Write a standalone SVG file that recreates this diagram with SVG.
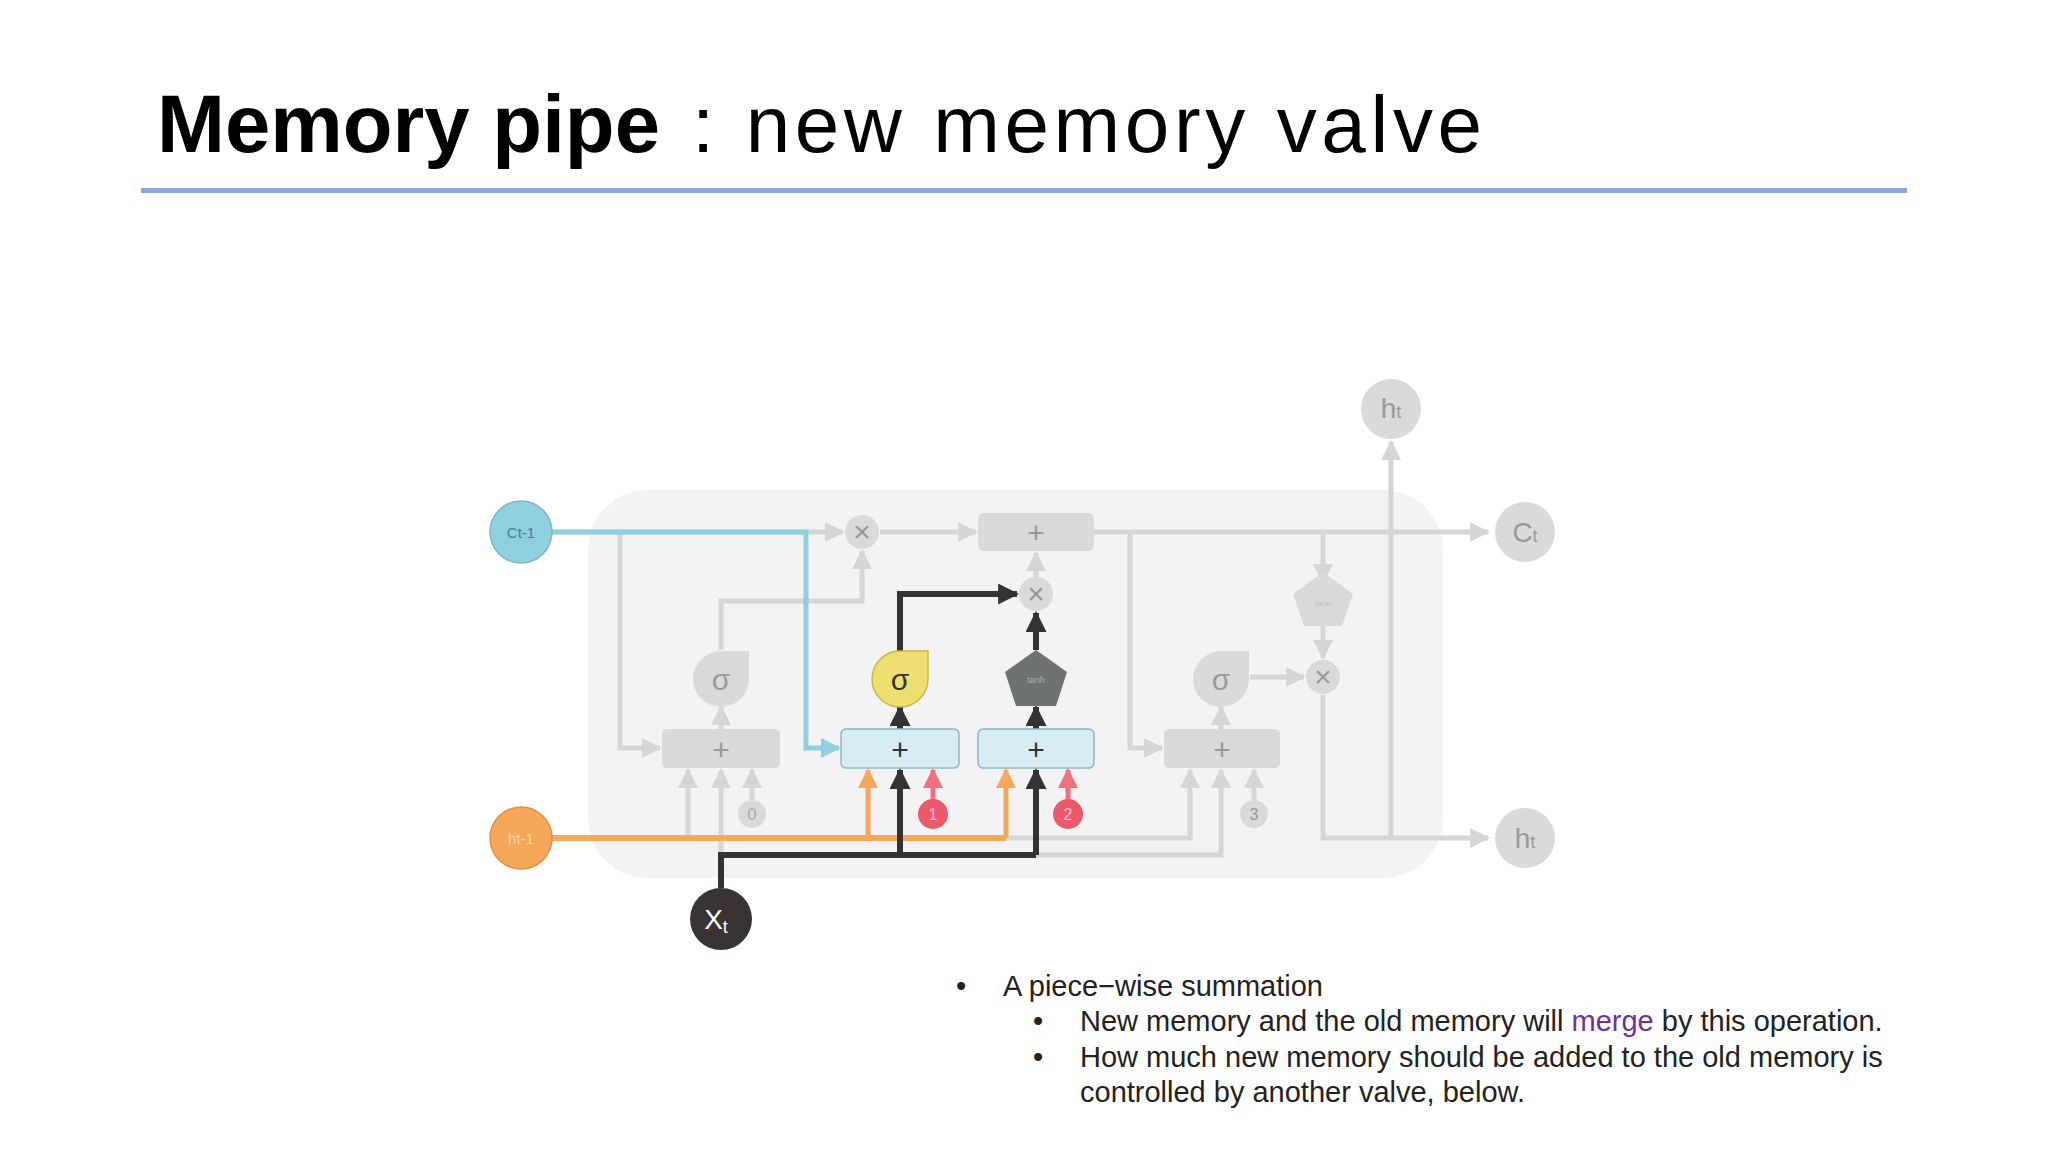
<svg xmlns="http://www.w3.org/2000/svg" width="2048" height="1152" viewBox="0 0 2048 1152">
<defs>
<marker id="ag" viewBox="0 0 10 10" refX="9" refY="5" markerWidth="4" markerHeight="4" orient="auto" markerUnits="strokeWidth"><path d="M0,0L10,5L0,10z" fill="#d6d6d6"/></marker>
<marker id="ad" viewBox="0 0 10 10" refX="9" refY="5" markerWidth="3.5" markerHeight="3.5" orient="auto" markerUnits="strokeWidth"><path d="M0,0L10,5L0,10z" fill="#333"/></marker>
<marker id="ab" viewBox="0 0 10 10" refX="9" refY="5" markerWidth="4" markerHeight="4" orient="auto" markerUnits="strokeWidth"><path d="M0,0L10,5L0,10z" fill="#8fd0de"/></marker>
<marker id="ao" viewBox="0 0 10 10" refX="9" refY="5" markerWidth="4" markerHeight="4" orient="auto" markerUnits="strokeWidth"><path d="M0,0L10,5L0,10z" fill="#f5a85a"/></marker>
<marker id="ar" viewBox="0 0 10 10" refX="9" refY="5" markerWidth="4" markerHeight="4" orient="auto" markerUnits="strokeWidth"><path d="M0,0L10,5L0,10z" fill="#f07080"/></marker>
</defs>
<style>
text{font-family:"Liberation Sans",Arial,sans-serif}
.g{fill:none;stroke:#d6d6d6;stroke-width:5;marker-end:url(#ag)}
.gn{fill:none;stroke:#d6d6d6;stroke-width:5}
.d{fill:none;stroke:#333;stroke-width:6;marker-end:url(#ad)}
.dn{fill:none;stroke:#333;stroke-width:6}
.b{fill:none;stroke:#8fd0de;stroke-width:5;marker-end:url(#ab)}
.o{fill:none;stroke:#f5a85a;stroke-width:5;marker-end:url(#ao)}
.on{fill:none;stroke:#f5a85a;stroke-width:6}
.r{fill:none;stroke:#f07080;stroke-width:5;marker-end:url(#ar)}
.gbox{fill:#dadada}
.bbox{fill:#d8ecf3;stroke:#8fb5c4;stroke-width:1.5}
.gc{fill:#dadada}
.op{font-size:30px;fill:#999;text-anchor:middle}
.opd{font-size:30px;fill:#333;text-anchor:middle}
.bul{font-size:29px;fill:#222}
</style>
<rect width="2048" height="1152" fill="#fff"/>
<text x="157" y="152" font-size="82" font-weight="bold" fill="#000" textLength="503" lengthAdjust="spacingAndGlyphs">Memory pipe</text>
<text x="692" y="152" font-size="80" fill="#000" textLength="790" lengthAdjust="spacing">: new memory valve</text>
<rect x="141" y="188" width="1766" height="5" fill="#8fa5d8"/>

<rect id="cell" x="588" y="490" width="855" height="388" rx="60" fill="#f3f3f5"/>

<g id="connectors">
<path class="gn" d="M552,532H806"/>
<path class="g" d="M806,532H843"/>
<path class="g" d="M620,532V748H660"/>
<path class="g" d="M880,532H976"/>
<path class="g" d="M1094,532H1488"/>
<path class="g" d="M1130,532V748H1162"/>
<path class="g" d="M1323,532V582"/>
<path class="g" d="M1323,622V658"/>
<path class="g" d="M1250,677H1304"/>
<path class="gn" d="M1323,695V838H1391"/>
<path class="g" d="M1391,838H1488"/>
<path class="g" d="M1391,838V442"/>
<path class="g" d="M721,650V601H862V551"/>
<path class="g" d="M721,729V707"/>
<path class="g" d="M1221,729V707"/>
<path class="g" d="M1036,577V553"/>
<path class="g" d="M688,838V770"/>
<path class="g" d="M721,855V770"/>
<path class="g" d="M752,800V770"/>
<path class="g" d="M1006,838H1190V770"/>
<path class="g" d="M1036,855H1221V770"/>
<path class="g" d="M1254,800V770"/>
<path class="b" d="M552,532H806V748H839"/>
<path class="on" d="M552,838H1006"/>
<path class="o" d="M868,838V770"/>
<path class="o" d="M1006,838V770"/>
<path class="dn" d="M721,888V855H1036"/>
<path class="d" d="M900,855V770"/>
<path class="d" d="M1036,855V770"/>
<path class="d" d="M900,729V707"/>
<path class="d" d="M1036,729V707"/>
<path class="d" d="M1036,650V613"/>
<path class="d" d="M900,652V594H1017"/>
<path class="r" d="M933,800V770"/>
<path class="r" d="M1068,800V770"/>
</g>

<g id="c_prev"><circle cx="521" cy="532" r="31" fill="#8fcfe0" stroke="#7ab8c8" stroke-width="1.5"/><text x="521" y="538" font-size="15" fill="#4d8090" text-anchor="middle" font-family="Liberation Serif,serif">Ct-1</text></g>
<g id="h_prev"><circle cx="521" cy="838" r="31" fill="#f5a85a" stroke="#e09040" stroke-width="1.5"/><text x="521" y="844" font-size="15" fill="#fbd6a8" text-anchor="middle">ht-1</text></g>
<g id="x_t"><circle cx="721" cy="919" r="31" fill="#3a3333"/><text x="716" y="929" font-size="28" fill="#fff" text-anchor="middle">X<tspan font-size="18" dy="4">t</tspan></text></g>
<g id="h_top"><circle cx="1391" cy="409" r="30" fill="#dadada"/><text x="1391" y="418" font-size="28" fill="#999" text-anchor="middle">h<tspan font-size="18">t</tspan></text></g>
<g id="c_t"><circle cx="1525" cy="532" r="30" fill="#dadada"/><text x="1525" y="542" font-size="28" fill="#999" text-anchor="middle">C<tspan font-size="18">t</tspan></text></g>
<g id="h_t"><circle cx="1525" cy="838" r="30" fill="#dadada"/><text x="1525" y="848" font-size="28" fill="#999" text-anchor="middle">h<tspan font-size="18">t</tspan></text></g>

<g id="mul1"><circle class="gc" cx="862" cy="532" r="17"/><text class="op" x="862" y="542">×</text></g>
<g id="add_top"><rect class="gbox" x="978" y="513" width="116" height="38" rx="6"/><text class="op" x="1036" y="543">+</text></g>
<g id="mul2"><circle class="gc" cx="1036" cy="594" r="17"/><text class="op" x="1036" y="604">×</text></g>
<g id="mul3"><circle class="gc" cx="1323" cy="677" r="17"/><text class="op" x="1323" y="687">×</text></g>

<g id="sig1"><path d="M721,651H749V679A28,28 0 1 1 721,651z" fill="#dadada"/><text class="op" x="721" y="690" font-size="34">σ</text></g>
<g id="sig2"><path d="M900,651H928V679A28,28 0 1 1 900,651z" fill="#ede070" stroke="#c8b840" stroke-width="1.5"/><text class="opd" x="900" y="690" font-size="34">σ</text></g>
<g id="sig3"><path d="M1221,651H1249V679A28,28 0 1 1 1221,651z" fill="#dadada"/><text class="op" x="1221" y="690" font-size="34">σ</text></g>
<g id="tanh1"><path d="M1036,650L1067,672L1056,706H1016L1005,672z" fill="#6f736f"/><text x="1036" y="683" font-size="9" fill="#aaa" text-anchor="middle">tanh</text></g>
<g id="tanh2"><path d="M1323,572L1353,594L1342,626H1304L1293,594z" fill="#dadada"/><text x="1323" y="606" font-size="8" fill="#bbb" text-anchor="middle">tanh</text></g>

<g id="add1"><rect class="gbox" x="662" y="729" width="118" height="39" rx="5"/><text class="op" x="721" y="760">+</text></g>
<g id="add2"><rect class="bbox" x="841" y="729" width="118" height="39" rx="5"/><text class="opd" x="900" y="760">+</text></g>
<g id="add3"><rect class="bbox" x="978" y="729" width="116" height="39" rx="5"/><text class="opd" x="1036" y="760">+</text></g>
<g id="add4"><rect class="gbox" x="1164" y="729" width="116" height="39" rx="5"/><text class="op" x="1222" y="760">+</text></g>

<g id="n0"><circle class="gc" cx="752" cy="814" r="14"/><text x="752" y="820" font-size="16" fill="#aaa" text-anchor="middle">0</text></g>
<g id="n1"><circle cx="933" cy="814" r="15" fill="#ec5a6a"/><text x="933" y="820" font-size="16" fill="#fbd" text-anchor="middle">1</text></g>
<g id="n2"><circle cx="1068" cy="814" r="15" fill="#ec5a6a"/><text x="1068" y="820" font-size="16" fill="#fbd" text-anchor="middle">2</text></g>
<g id="n3"><circle class="gc" cx="1254" cy="814" r="14"/><text x="1254" y="820" font-size="16" fill="#999" text-anchor="middle">3</text></g>

<g id="bullets">
<text class="bul" x="956" y="996">•</text>
<text class="bul" x="1003" y="996">A piece−wise summation</text>
<text class="bul" x="1033" y="1031">•</text>
<text class="bul" x="1080" y="1031">New memory and the old memory will <tspan fill="#7030a0">merge</tspan> by this operation.</text>
<text class="bul" x="1033" y="1067">•</text>
<text class="bul" x="1080" y="1067">How much new memory should be added to the old memory is</text>
<text class="bul" x="1080" y="1102">controlled by another valve, below.</text>
</g>
</svg>
